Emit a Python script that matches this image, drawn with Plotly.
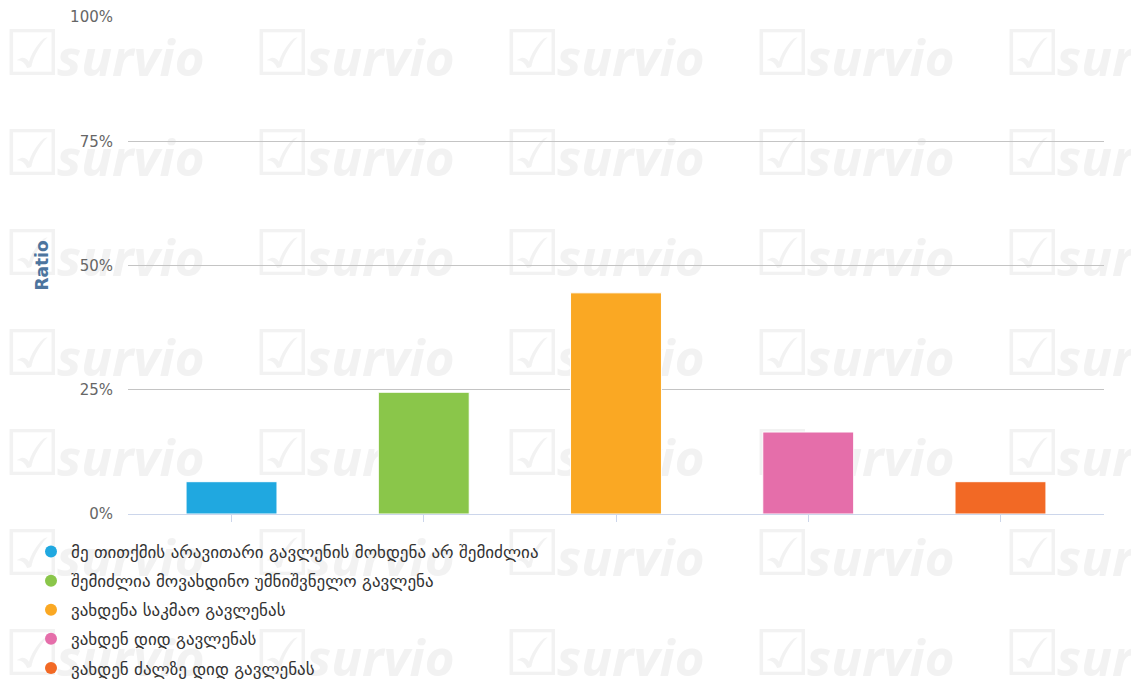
import plotly.graph_objects as go

categories = [
    "მე თითქმის არავითარი გავლენის მოხდენა არ შემიძლია",
    "შემიძლია მოვახდინო უმნიშვნელო გავლენა",
    "ვახდენა საკმაო გავლენას",
    "ვახდენ დიდ გავლენას",
    "ვახდენ ძალზე დიდ გავლენას",
]
values = [6.5, 24.5, 44.5, 16.5, 6.5]
colors = ["#20a8e0", "#8ac64a", "#faa823", "#e56eaa", "#f26925"]
y_ticks = [0, 25, 50, 75, 100]
y_tick_labels = ["0%", "25%", "50%", "75%", "100%"]

W, H = 1131, 681
PL, PR, PT, PB = 128, 1104, 17, 514   # plot area in pixels
XR = [-0.5385, 4.5385]
YR = [0, 100]

# watermark tiling (background decoration), in page pixels
chk_x, chk_y, wm_x, wm_y = [], [], [], []
for c in range(5):
    for r in range(7):
        chk_x.append(4 + 250 * c)
        chk_y.append(59 + 100 * r)
        wm_x.append(57 + 250 * c)
        wm_y.append(63 + 100 * r)

fig = go.Figure()

fig.add_trace(go.Scatter(
    x=chk_x, y=chk_y, mode="text", text=["☑"] * len(chk_x),
    textposition="middle right", cliponaxis=False, hoverinfo="skip",
    textfont=dict(family="DejaVu Sans", size=63, color="#f2f2f2"),
    showlegend=False, xaxis="x", yaxis="y",
))
fig.add_trace(go.Scatter(
    x=wm_x, y=wm_y, mode="text", text=["survio"] * len(wm_x),
    textposition="middle right", cliponaxis=False, hoverinfo="skip",
    textfont=dict(family="Open Sans", size=51, color="#f2f2f2",
                  weight="bold", style="italic"),
    showlegend=False, xaxis="x", yaxis="y",
))

fig.add_trace(go.Bar(
    x=categories, y=values, width=0.473,
    marker=dict(color=colors, line=dict(color="white", width=1)),
    showlegend=False, xaxis="x2", yaxis="y2",
))

for i, (name, col) in enumerate(zip(categories, colors)):
    fig.add_trace(go.Scatter(
        x=[None], y=[None], mode="markers", name=name,
        marker=dict(symbol="circle", size=12, color=col),
        legendgroup=f"g{i}", xaxis="x2", yaxis="y2",
    ))

fig.update_layout(
    width=W, height=H,
    margin=dict(l=0, r=0, t=0, b=0, autoexpand=False),
    paper_bgcolor="white", plot_bgcolor="rgba(0,0,0,0)",
    font=dict(family="DejaVu Sans", color="#666666"),
    xaxis=dict(domain=[0, 1], range=[0, W], visible=False, fixedrange=True),
    yaxis=dict(domain=[0, 1], range=[H, 0], visible=False, fixedrange=True),
    xaxis2=dict(domain=[PL / W, PR / W], anchor="y2", type="category",
                range=XR, categoryorder="array", categoryarray=categories,
                showticklabels=False, ticks="outside", ticklen=7,
                tickcolor="#ccd6eb", showgrid=False, zeroline=False,
                showline=True, linecolor="#ccd6eb", linewidth=1,
                fixedrange=True),
    yaxis2=dict(domain=[1 - PB / H, 1 - PT / H], anchor="x2", range=YR,
                tickvals=y_ticks, ticktext=y_tick_labels,
                tickfont=dict(size=15, color="#666666"),
                showgrid=True, gridcolor="#c4c4c4", gridwidth=1,
                zeroline=False, showline=False, ticks="",
                ticklabelstandoff=14,
                title=dict(text="<b>Ratio</b>", standoff=17,
                           font=dict(size=17, color="#4d759e")),
                fixedrange=True),
    showlegend=True,
    legend=dict(x=31 / W, xanchor="left", y=1 - 534 / H, yanchor="top",
                orientation="v",
                font=dict(family="DejaVu Sans", size=17, color="#333333"),
                tracegroupgap=4, itemwidth=30, bgcolor="rgba(0,0,0,0)"),
)

fig.write_html("out.html")
